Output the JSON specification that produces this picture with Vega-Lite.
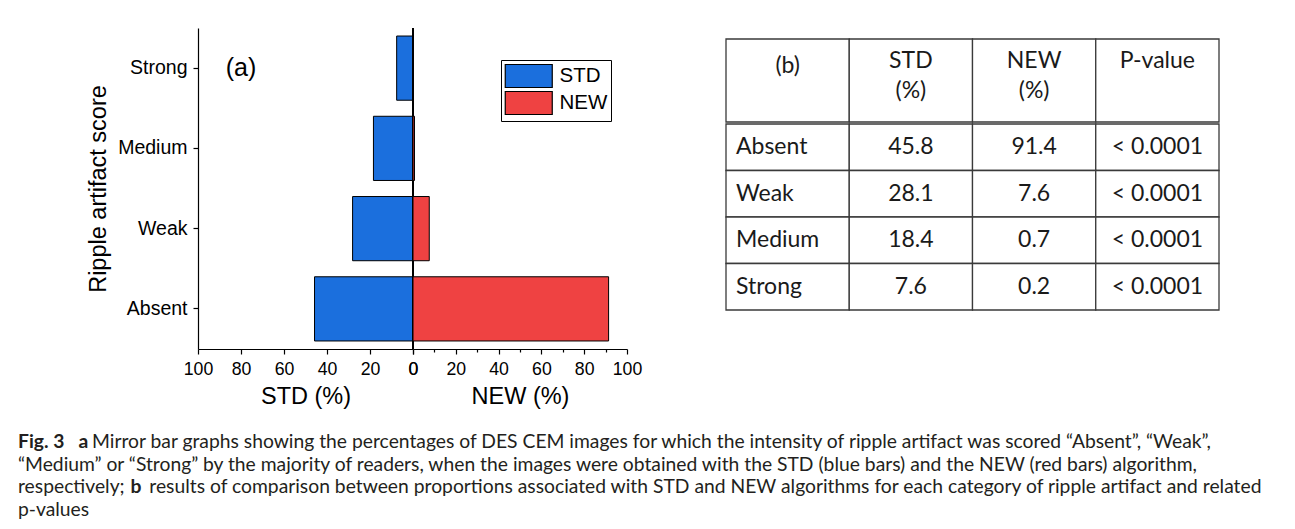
{
  "$schema": "https://vega.github.io/schema/vega-lite/v6.json",
  "padding": {"left": 18, "top": 27, "right": 5, "bottom": 5},
  "background": "white",
  "config": {
    "view": {"stroke": null},
    "font": "Liberation Sans",
    "axis": {
      "domainColor": "black", "tickColor": "black", "labelColor": "black", "titleColor": "black",
      "titleFontWeight": "normal", "labelFont": "Liberation Sans", "titleFont": "Liberation Sans",
      "domainWidth": 1.2, "tickWidth": 1.2, "grid": false
    }
  },
  "datasets": {
    "bars": [
      {"score": "Absent", "alg": "STD", "pct": 45.8},
      {"score": "Weak", "alg": "STD", "pct": 28.1},
      {"score": "Medium", "alg": "STD", "pct": 18.4},
      {"score": "Strong", "alg": "STD", "pct": 7.6},
      {"score": "Absent", "alg": "NEW", "pct": 91.4},
      {"score": "Weak", "alg": "NEW", "pct": 7.6},
      {"score": "Medium", "alg": "NEW", "pct": 0.7},
      {"score": "Strong", "alg": "NEW", "pct": 0.2}
    ],
    "zero": [{"ref": 0}],
    "panelLabel": [{"panel": "(a)"}],
    "tableHead": [
      {"row": "head", "col": "label", "text": "(b)"},
      {"row": "head", "col": "STD", "text": "STD\n(%)"},
      {"row": "head", "col": "NEW", "text": "NEW\n(%)"},
      {"row": "head", "col": "P", "text": "P-value"}
    ],
    "tableBody": [
      {"score": "Absent", "col": "label", "text": "Absent"},
      {"score": "Absent", "col": "STD", "text": "45.8"},
      {"score": "Absent", "col": "NEW", "text": "91.4"},
      {"score": "Absent", "col": "P", "text": "< 0.0001"},
      {"score": "Weak", "col": "label", "text": "Weak"},
      {"score": "Weak", "col": "STD", "text": "28.1"},
      {"score": "Weak", "col": "NEW", "text": "7.6"},
      {"score": "Weak", "col": "P", "text": "< 0.0001"},
      {"score": "Medium", "col": "label", "text": "Medium"},
      {"score": "Medium", "col": "STD", "text": "18.4"},
      {"score": "Medium", "col": "NEW", "text": "0.7"},
      {"score": "Medium", "col": "P", "text": "< 0.0001"},
      {"score": "Strong", "col": "label", "text": "Strong"},
      {"score": "Strong", "col": "STD", "text": "7.6"},
      {"score": "Strong", "col": "NEW", "text": "0.2"},
      {"score": "Strong", "col": "P", "text": "< 0.0001"}
    ],
    "caption": [
      {"line": 1, "bold": "Fig. 3\u00a0\u00a0\u00a0a", "text": "\u200b\u00a0\u00a0\u00a0\u00a0\u00a0\u00a0\u00a0\u00a0\u00a0\u00a0\u00a0\u00a0\u00a0\u00a0\u00a0Mirror bar graphs showing the percentages of DES CEM images for which the intensity of ripple artifact was scored “Absent”, “Weak”,"},
      {"line": 2, "bold": "", "text": "“Medium” or “Strong” by the majority of readers, when the images were obtained with the STD (blue bars) and the NEW (red bars) algorithm,"},
      {"line": 3, "bold": "\u200b\u00a0\u00a0\u00a0\u00a0\u00a0\u00a0\u00a0\u00a0\u00a0\u00a0\u00a0\u00a0\u00a0\u00a0\u00a0\u00a0\u00a0\u00a0\u00a0\u00a0\u00a0\u00a0\u00a0\u00a0b", "text": "respectively;\u00a0\u00a0\u00a0\u00a0\u00a0results of comparison between proportions associated with STD and NEW algorithms for each category of ripple artifact and related"},
      {"line": 4, "bold": "", "text": "p-values"}
    ]
  },
  "vconcat": [
    {
      "hconcat": [
        {
          "hconcat": [
            {
              "width": 68,
              "height": 10,
              "data": {"values": []},
              "mark": "rect"
            },
            {
              "hconcat": [
                {
                  "width": 215,
                  "height": 321,
                  "layer": [
                    {
                      "data": {"name": "bars"},
                      "transform": [{"filter": "datum.alg === 'STD'"}],
                      "mark": {"type": "bar", "stroke": "black", "strokeWidth": 1},
                      "encoding": {
                        "y": {
                          "field": "score", "type": "nominal",
                          "scale": {"domain": ["Strong", "Medium", "Weak", "Absent"], "paddingInner": 0.2, "paddingOuter": 0.1},
                          "axis": {
                            "title": "Ripple artifact score", "titleFontSize": 23.5, "titlePadding": 7,
                            "labelFontSize": 19.5, "labelPadding": 6, "tickSize": 5
                          }
                        },
                        "x": {
                          "field": "pct", "type": "quantitative",
                          "scale": {"domain": [0, 100], "reverse": true, "nice": false},
                          "axis": {
                            "title": "STD (%)", "titleFontSize": 23.5, "titlePadding": 7,
                            "values": [0, 10, 20, 30, 40, 50, 60, 70, 80, 90, 100],
                            "labelExpr": "datum.value % 20 === 0 ? datum.label : ''",
                            "tickSize": {"condition": {"test": "datum.value % 20 !== 0", "value": 3}, "value": 5},
                            "labelFontSize": 17.7, "labelPadding": 6, "labelFlush": false, "labelOverlap": false
                          }
                        },
                        "color": {
                          "field": "alg", "type": "nominal",
                          "scale": {"domain": ["STD", "NEW"], "range": ["#1b6fdd", "#ef4242"]},
                          "legend": null
                        }
                      }
                    },
                    {
                      "data": {"name": "zero"},
                      "mark": {"type": "rule", "color": "black", "strokeWidth": 2},
                      "encoding": {"x": {"field": "ref", "type": "quantitative"}}
                    },
                    {
                      "data": {"name": "panelLabel"},
                      "mark": {"type": "text", "fontSize": 25, "font": "Liberation Sans", "color": "black", "align": "center", "baseline": "middle"},
                      "encoding": {
                        "x": {"datum": 80, "type": "quantitative"},
                        "y": {"datum": "Strong", "type": "nominal"},
                        "text": {"field": "panel"}
                      }
                    }
                  ]
                },
                {
                  "width": 214,
                  "height": 321,
                  "data": {"name": "bars"},
                  "transform": [{"filter": "datum.alg === 'NEW'"}],
                  "mark": {"type": "bar", "stroke": "black", "strokeWidth": 1},
                  "encoding": {
                    "y": {
                      "field": "score", "type": "nominal",
                      "scale": {"domain": ["Strong", "Medium", "Weak", "Absent"], "paddingInner": 0.2, "paddingOuter": 0.1},
                      "axis": null
                    },
                    "x": {
                      "field": "pct", "type": "quantitative",
                      "scale": {"domain": [0, 100], "nice": false},
                      "axis": {
                        "title": "NEW (%)", "titleFontSize": 23.5, "titlePadding": 7,
                        "values": [0, 10, 20, 30, 40, 50, 60, 70, 80, 90, 100],
                        "labelExpr": "datum.value % 20 === 0 ? datum.label : ''",
                        "tickSize": {"condition": {"test": "datum.value % 20 !== 0", "value": 3}, "value": 5},
                        "labelFontSize": 17.7, "labelPadding": 6, "labelFlush": false, "labelOverlap": false
                      }
                    },
                    "color": {
                      "field": "alg", "type": "nominal",
                      "scale": {"domain": ["STD", "NEW"], "range": ["#1b6fdd", "#ef4242"]},
                      "legend": {
                        "orient": "none", "legendX": 88, "legendY": 32, "title": null,
                        "strokeColor": "black", "padding": 3.5,
                        "symbolType": "M-2,-0.98H2V0.98H-2Z", "symbolSize": 552.25, "symbolOffset": 11.75,
                        "symbolStrokeColor": "black", "symbolStrokeWidth": 1.2, "symbolOpacity": 1,
                        "labelFontSize": 20.5, "labelColor": "black", "labelFont": "Liberation Sans",
                        "labelOffset": 18.25, "rowPadding": -3
                      }
                    }
                  }
                }
              ],
              "spacing": 0,
              "bounds": "flush",
              "resolve": {"scale": {"color": "independent"}, "legend": {"color": "independent"}}
            }
          ],
          "spacing": 0
        },
        {
          "vconcat": [
            {
              "width": 493,
              "height": 94,
              "data": {"name": "tableHead"},
              "encoding": {
                "x": {"field": "col", "type": "nominal", "scale": {"domain": ["label", "STD", "NEW", "P"], "paddingInner": 0, "paddingOuter": 0}, "axis": null},
                "y": {"field": "row", "type": "nominal", "scale": {"paddingInner": 0, "paddingOuter": 0.0663, "align": 1}, "axis": null}
              },
              "layer": [
                {"mark": {"type": "rect", "fill": "white", "stroke": "#3a3a3a", "strokeWidth": 1.3}},
                {
                  "transform": [{"filter": "datum.col !== 'label'"}],
                  "mark": {"type": "text", "font": "Lato", "fontSize": 23, "baseline": "top", "align": "center", "lineBreak": "\n", "lineHeight": 30, "dy": 11, "color": "#1a1a1a"},
                  "encoding": {"y": {"field": "row", "type": "nominal", "bandPosition": 0}, "text": {"field": "text"}}
                },
                {
                  "transform": [{"filter": "datum.col === 'label'"}],
                  "mark": {"type": "text", "font": "Lato", "fontSize": 23, "baseline": "top", "align": "center", "dy": 16, "color": "#1a1a1a"},
                  "encoding": {"y": {"field": "row", "type": "nominal", "bandPosition": 0}, "text": {"field": "text"}}
                }
              ]
            },
            {
              "width": 493,
              "height": 186,
              "data": {"name": "tableBody"},
              "encoding": {
                "x": {"field": "col", "type": "nominal", "scale": {"domain": ["label", "STD", "NEW", "P"], "paddingInner": 0, "paddingOuter": 0}, "axis": null},
                "y": {"field": "score", "type": "nominal", "scale": {"domain": ["Absent", "Weak", "Medium", "Strong"], "paddingInner": 0, "paddingOuter": 0}, "axis": null}
              },
              "layer": [
                {"mark": {"type": "rect", "fill": "white", "stroke": "#3a3a3a", "strokeWidth": 1.3}},
                {
                  "transform": [{"filter": "datum.col !== 'label'"}],
                  "mark": {"type": "text", "font": "Lato", "fontSize": 23, "baseline": "middle", "align": "center", "color": "#1a1a1a"},
                  "encoding": {"text": {"field": "text"}}
                },
                {
                  "transform": [{"filter": "datum.col === 'label'"}],
                  "mark": {"type": "text", "font": "Lato", "fontSize": 23, "baseline": "middle", "align": "left", "dx": 10, "color": "#1a1a1a"},
                  "encoding": {"x": {"field": "col", "type": "nominal", "bandPosition": 0}, "text": {"field": "text"}}
                }
              ]
            }
          ],
          "spacing": 0
        }
      ],
      "spacing": 83
    },
    {
      "width": 1271,
      "height": 90,
      "data": {"name": "caption"},
      "encoding": {
        "y": {"field": "line", "type": "ordinal", "scale": {"paddingInner": 0, "paddingOuter": 0}, "axis": null},
        "x": {"value": 0}
      },
      "layer": [
        {
          "mark": {"type": "text", "align": "left", "baseline": "middle", "font": "Lato", "fontSize": 19.3, "color": "#231f20"},
          "encoding": {"text": {"field": "text"}}
        },
        {
          "mark": {"type": "text", "align": "left", "baseline": "middle", "font": "Lato", "fontSize": 19.3, "fontWeight": "bold", "color": "#231f20"},
          "encoding": {"text": {"field": "bold"}}
        }
      ]
    }
  ],
  "spacing": 22
}
